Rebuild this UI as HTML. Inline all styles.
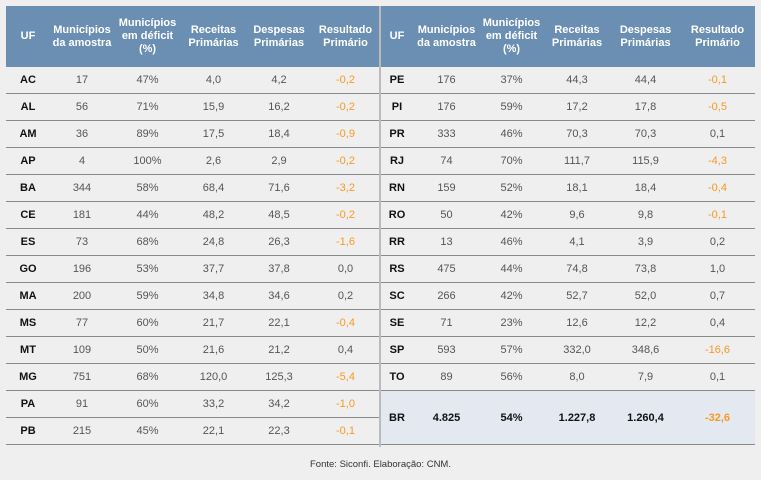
<!DOCTYPE html>
<html><head><meta charset="utf-8"><style>
body{margin:0;width:761px;height:480px;background:#efefef;font-family:"Liberation Sans",sans-serif;position:relative;overflow:hidden}
table{position:absolute;top:6px;border-collapse:collapse;table-layout:fixed}
th{background:#6a8fb3;color:#fff;font-size:11px;font-weight:bold;height:61px;padding:0;line-height:13px}
td{height:26px;border-bottom:1px solid #8a8a8a;text-align:center;font-size:11px;color:#555;padding:0}
td:first-child{font-weight:bold;color:#111}
.n{color:#f59a23}
.br td{background:#e4e9f1;color:#111;font-weight:bold;height:53px}
.br td.n{color:#f59a23}
#l{left:6px;width:373px}
#r{left:381px;width:374px}
#div{position:absolute;left:379px;top:6px;width:2px;height:441px;background:#bbb}
.f{position:absolute;top:459px;left:0;width:761px;text-align:center;font-size:9.5px;color:#333}
</style></head><body>
<div id="div"></div>
<table id="l">
<colgroup><col style="width:44px"><col style="width:64px"><col style="width:67px"><col style="width:65px"><col style="width:66px"><col style="width:67px"></colgroup>
<tr><th>UF</th><th>Municípios da amostra</th><th>Municípios em déficit (%)</th><th>Receitas Primárias</th><th>Despesas Primárias</th><th>Resultado Primário</th></tr>
<tr><td>AC</td><td>17</td><td>47%</td><td>4,0</td><td>4,2</td><td class="n">-0,2</td></tr>
<tr><td>AL</td><td>56</td><td>71%</td><td>15,9</td><td>16,2</td><td class="n">-0,2</td></tr>
<tr><td>AM</td><td>36</td><td>89%</td><td>17,5</td><td>18,4</td><td class="n">-0,9</td></tr>
<tr><td>AP</td><td>4</td><td>100%</td><td>2,6</td><td>2,9</td><td class="n">-0,2</td></tr>
<tr><td>BA</td><td>344</td><td>58%</td><td>68,4</td><td>71,6</td><td class="n">-3,2</td></tr>
<tr><td>CE</td><td>181</td><td>44%</td><td>48,2</td><td>48,5</td><td class="n">-0,2</td></tr>
<tr><td>ES</td><td>73</td><td>68%</td><td>24,8</td><td>26,3</td><td class="n">-1,6</td></tr>
<tr><td>GO</td><td>196</td><td>53%</td><td>37,7</td><td>37,8</td><td>0,0</td></tr>
<tr><td>MA</td><td>200</td><td>59%</td><td>34,8</td><td>34,6</td><td>0,2</td></tr>
<tr><td>MS</td><td>77</td><td>60%</td><td>21,7</td><td>22,1</td><td class="n">-0,4</td></tr>
<tr><td>MT</td><td>109</td><td>50%</td><td>21,6</td><td>21,2</td><td>0,4</td></tr>
<tr><td>MG</td><td>751</td><td>68%</td><td>120,0</td><td>125,3</td><td class="n">-5,4</td></tr>
<tr><td>PA</td><td>91</td><td>60%</td><td>33,2</td><td>34,2</td><td class="n">-1,0</td></tr>
<tr><td>PB</td><td>215</td><td>45%</td><td>22,1</td><td>22,3</td><td class="n">-0,1</td></tr>
</table>
<table id="r">
<colgroup><col style="width:32px"><col style="width:67px"><col style="width:63px"><col style="width:68px"><col style="width:69px"><col style="width:75px"></colgroup>
<tr><th>UF</th><th>Municípios da amostra</th><th>Municípios em déficit (%)</th><th>Receitas Primárias</th><th>Despesas Primárias</th><th>Resultado Primário</th></tr>
<tr><td>PE</td><td>176</td><td>37%</td><td>44,3</td><td>44,4</td><td class="n">-0,1</td></tr>
<tr><td>PI</td><td>176</td><td>59%</td><td>17,2</td><td>17,8</td><td class="n">-0,5</td></tr>
<tr><td>PR</td><td>333</td><td>46%</td><td>70,3</td><td>70,3</td><td>0,1</td></tr>
<tr><td>RJ</td><td>74</td><td>70%</td><td>111,7</td><td>115,9</td><td class="n">-4,3</td></tr>
<tr><td>RN</td><td>159</td><td>52%</td><td>18,1</td><td>18,4</td><td class="n">-0,4</td></tr>
<tr><td>RO</td><td>50</td><td>42%</td><td>9,6</td><td>9,8</td><td class="n">-0,1</td></tr>
<tr><td>RR</td><td>13</td><td>46%</td><td>4,1</td><td>3,9</td><td>0,2</td></tr>
<tr><td>RS</td><td>475</td><td>44%</td><td>74,8</td><td>73,8</td><td>1,0</td></tr>
<tr><td>SC</td><td>266</td><td>42%</td><td>52,7</td><td>52,0</td><td>0,7</td></tr>
<tr><td>SE</td><td>71</td><td>23%</td><td>12,6</td><td>12,2</td><td>0,4</td></tr>
<tr><td>SP</td><td>593</td><td>57%</td><td>332,0</td><td>348,6</td><td class="n">-16,6</td></tr>
<tr><td>TO</td><td>89</td><td>56%</td><td>8,0</td><td>7,9</td><td>0,1</td></tr>
<tr class="br"><td>BR</td><td>4.825</td><td>54%</td><td>1.227,8</td><td>1.260,4</td><td class="n">-32,6</td></tr>
</table>
<div class="f">Fonte: Siconfi. Elaboração: CNM.</div>
</body></html>
